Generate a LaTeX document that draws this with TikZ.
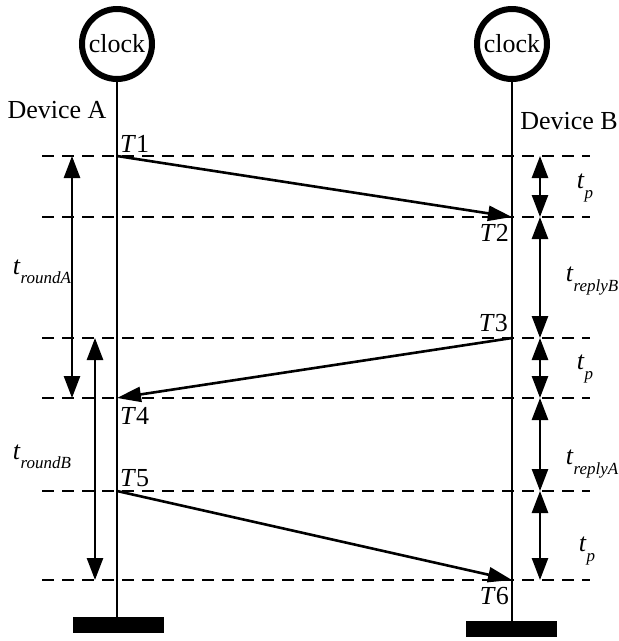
\documentclass[tikz,border=0pt]{standalone}
\usepackage{fontspec}
\setmainfont{Liberation Serif}
\usetikzlibrary{arrows.meta}
% italic t with an italic subscript
\newcommand{\tsub}[1]{\textit{t}\raisebox{-0.8ex}{\fontsize{17}{17}\selectfont\itshape #1}}
\begin{document}
\begin{tikzpicture}[x=1pt,y=-1pt,
  font=\fontsize{26}{30}\selectfont,
  clockface/.style={circle,draw,line width=6pt,minimum size=70pt,inner sep=0pt},
  basebar/.style={fill=black,minimum width=91pt,minimum height=16pt,inner sep=0pt},
  lifeline/.style={line width=1.3pt},
  level/.style={line width=1.3pt,dash pattern=on 12pt off 8pt},
  msg/.style={line width=2.6pt,-{Triangle[length=24pt,width=15pt]}},
  span/.style={line width=2.6pt,{Triangle[length=22pt,width=16pt]}-{Triangle[length=22pt,width=16pt]}},
  stamp/.style={inner sep=1pt}]
\useasboundingbox (0,0) rectangle (619,641);

% clocks and bases
\node[clockface] (clkA) at (117,44) {clock};
\node[clockface] (clkB) at (512,44) {clock};
\node[basebar] (barA) at (118,625) {};
\node[basebar] (barB) at (511.5,629) {};

% lifelines
\draw[lifeline] (clkA.south) -- (clkA.south |- barA.north);
\draw[lifeline] (clkB.south) -- (clkB.south |- barB.north);

\node (devA) at (57,110) {Device A};
\node (devB) at (569,121) {Device B};

% time levels
\foreach \n/\y in {1/156,2/217,3/338,4/398,5/491,6/580}{
  \coordinate (L\n) at (42,\y);
  \coordinate (R\n) at (590,\y);
  \coordinate (S\n) at (540,\y);
  \draw[level] (L\n) -- (R\n);
}

% event points
\coordinate (T1) at (117,156);
\coordinate (T2) at (512,217);
\coordinate (T3) at (512,338);
\coordinate (T4) at (117,398);
\coordinate (T5) at (117,491);
\coordinate (T6) at (512,580);

% messages
\draw[msg] (T1) -- (T2);
\draw[msg] (T3) -- (T4);
\draw[msg] (T5) -- (T6);

\node[stamp,anchor=south west] (lT1) at ([xshift=2pt,yshift=2pt]T1) {\textit{T}1};
\node[stamp,anchor=north east] (lT2) at ([xshift=-2pt,yshift=-6pt]T2) {\textit{T}2};
\node[stamp,anchor=south east] (lT3) at ([xshift=-3pt,yshift=5pt]T3) {\textit{T}3};
\node[stamp,anchor=north west] (lT4) at ([xshift=2pt,yshift=-8pt]T4) {\textit{T}4};
\node[stamp,anchor=south west] (lT5) at ([xshift=2pt,yshift=3pt]T5) {\textit{T}5};
\node[stamp,anchor=north east] (lT6) at ([xshift=-2pt,yshift=-6pt]T6) {\textit{T}6};

% intervals on device B side
\draw[span] (S1) -- (S2);
\draw[span] (S2) -- (S3);
\draw[span] (S3) -- (S4);
\draw[span] (S4) -- (S5);
\draw[span] (S5) -- (S6);
\node (tp1) at (585,188) {\tsub{p}};
\node (trB) at (592,281) {\tsub{replyB}};
\node (tp2) at (585,369) {\tsub{p}};
\node (trA) at (592,464) {\tsub{replyA}};
\node (tp3) at (587,551) {\tsub{p}};

% round-trip intervals on device A side
\coordinate (a1) at (72,156);
\coordinate (a2) at (72,398);
\coordinate (b1) at (95,338);
\coordinate (b2) at (95,580);
\draw[span] (a1) -- (a2);
\draw[span] (b1) -- (b2);
\node (trndA) at (42,272) {\tsub{roundA}};
\node (trndB) at (42,457) {\tsub{roundB}};
\end{tikzpicture}
\end{document}
